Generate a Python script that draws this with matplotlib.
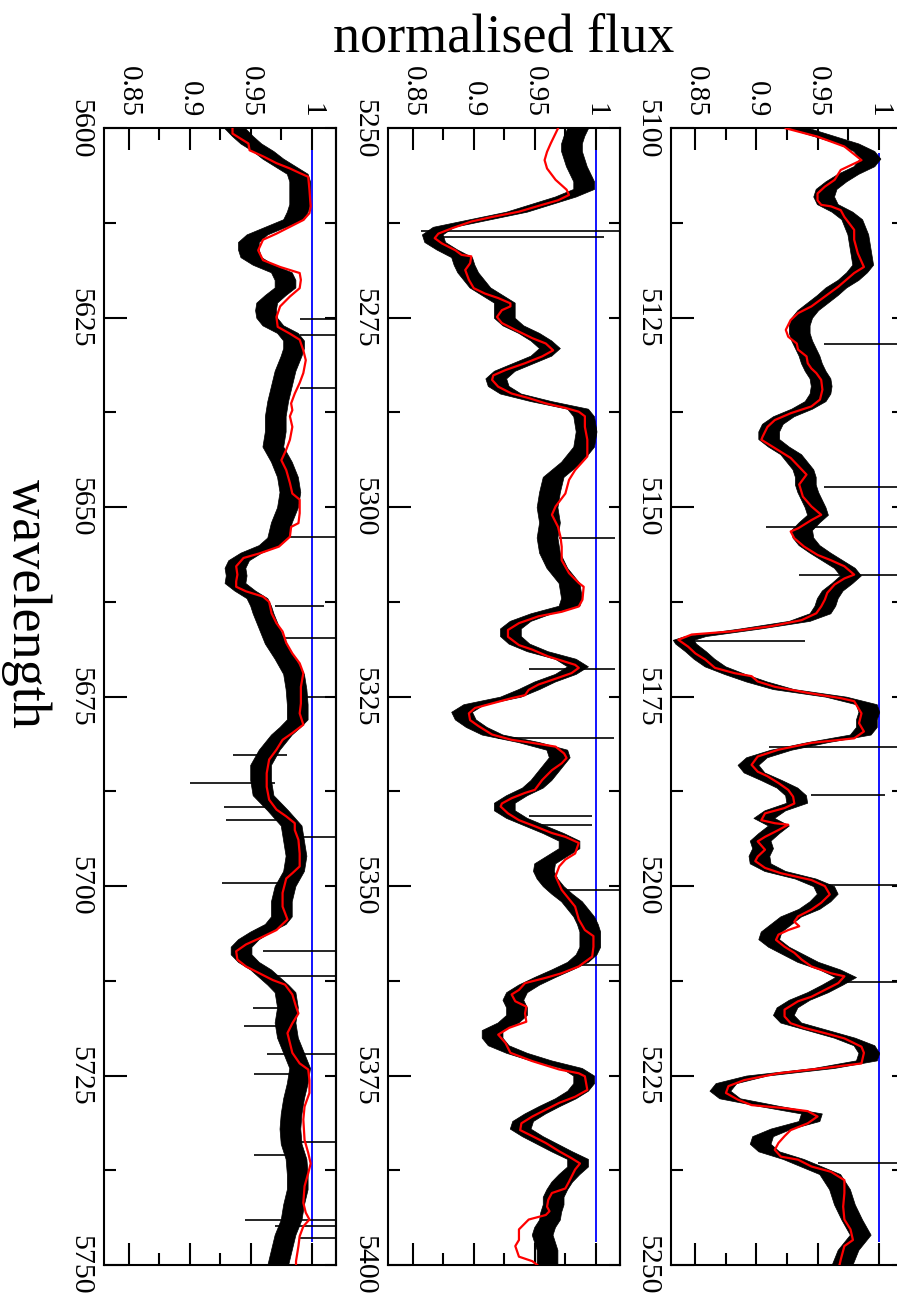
import matplotlib
matplotlib.use('Agg')
import matplotlib.pyplot as plt
from matplotlib.ticker import MultipleLocator, FuncFormatter

plt.rcParams['font.family'] = ['Liberation Serif', 'DejaVu Serif']

# ---- panel A: 5100-5250 ----
a_range = (5100, 5250)
a_red_lam = [5100.0, 5101.1, 5102.4, 5104.2, 5105.5, 5106.8, 5107.7, 5108.6, 5109.5, 5110.1,
             5110.3, 5110.8, 5111.7, 5113.4, 5114.7, 5116.5, 5118.3, 5119.1, 5120.9, 5122.2,
             5123.5, 5124.4, 5125.3, 5126.6, 5127.5, 5128.4, 5129.2, 5130.1, 5131.0, 5131.7,
             5132.3, 5133.2, 5134.5, 5135.8, 5136.7, 5137.6, 5138.5, 5139.4, 5140.7, 5141.1,
             5142.2, 5143.5, 5145.7, 5147.0, 5148.6, 5149.9, 5151.0, 5151.7, 5152.8, 5153.2,
             5154.1, 5155.2, 5156.3, 5157.0, 5157.8, 5158.9, 5159.4, 5160.2, 5161.3, 5162.2,
             5163.1, 5164.0, 5164.9, 5165.7, 5166.4, 5166.8, 5167.5, 5168.4, 5169.3, 5170.1,
             5171.2, 5171.9, 5172.3, 5173.0, 5173.7, 5174.5, 5175.2, 5175.6, 5177.2, 5178.5,
             5179.6, 5180.5, 5181.1, 5182.0, 5182.9, 5184.0, 5184.9, 5185.5, 5186.4, 5187.3,
             5188.2, 5189.1, 5189.7, 5190.4, 5191.3, 5191.7, 5191.9, 5192.6, 5193.5, 5194.1,
             5195.2, 5196.1, 5196.7, 5197.6, 5198.3, 5199.2, 5200.0, 5201.1, 5202.2, 5203.1,
             5204.0, 5204.7, 5205.3, 5205.8, 5206.4, 5207.1, 5208.0, 5208.8, 5209.7, 5210.6,
             5211.5, 5211.9, 5212.8, 5213.7, 5214.6, 5215.2, 5216.3, 5217.2, 5218.1, 5218.7,
             5219.4, 5220.1, 5221.2, 5222.0, 5223.4, 5224.0, 5224.7, 5225.6, 5226.4, 5227.3,
             5228.2, 5228.9, 5229.3, 5229.7, 5230.4, 5231.3, 5232.2, 5233.0, 5233.9, 5234.8,
             5235.7, 5236.1, 5237.0, 5237.7, 5238.8, 5240.5, 5242.3, 5244.0, 5245.3, 5246.7,
             5247.5, 5249.3, 5250.0]
a_red_flux = [0.924, 0.950, 0.972, 0.986, 0.969, 0.964, 0.956, 0.950, 0.950, 0.953,
              0.961, 0.969, 0.972, 0.980, 0.980, 0.983, 0.988, 0.980, 0.967, 0.956,
              0.945, 0.934, 0.928, 0.924, 0.926, 0.933, 0.934, 0.941, 0.942, 0.945,
              0.949, 0.953, 0.954, 0.952, 0.945, 0.928, 0.915, 0.909, 0.905, 0.904,
              0.915, 0.928, 0.941, 0.935, 0.938, 0.945, 0.953, 0.945, 0.934, 0.928,
              0.931, 0.939, 0.950, 0.961, 0.972, 0.980, 0.972, 0.964, 0.958, 0.956,
              0.953, 0.949, 0.937, 0.912, 0.879, 0.847, 0.836, 0.844, 0.850, 0.858,
              0.866, 0.882, 0.896, 0.901, 0.915, 0.942, 0.969, 0.980, 0.986, 0.984,
              0.988, 0.980, 0.945, 0.918, 0.901, 0.896, 0.901, 0.909, 0.918, 0.926,
              0.930, 0.931, 0.923, 0.907, 0.904, 0.915, 0.926, 0.918, 0.907, 0.901,
              0.907, 0.901, 0.899, 0.907, 0.920, 0.945, 0.956, 0.960, 0.953, 0.945,
              0.934, 0.931, 0.935, 0.926, 0.918, 0.916, 0.923, 0.931, 0.937, 0.945,
              0.961, 0.972, 0.967, 0.956, 0.945, 0.934, 0.923, 0.923, 0.928, 0.939,
              0.956, 0.972, 0.986, 0.988, 0.986, 0.956, 0.918, 0.890, 0.877, 0.875,
              0.885, 0.896, 0.923, 0.942, 0.950, 0.942, 0.928, 0.923, 0.918, 0.915,
              0.920, 0.934, 0.945, 0.961, 0.972, 0.972, 0.971, 0.972, 0.977, 0.979,
              0.972, 0.969, 0.968]
a_blk_lam = [5100, 5101, 5102, 5103, 5104, 5105, 5106, 5107, 5108, 5109, 5110, 5111, 5112,
             5114, 5116, 5118, 5119, 5120, 5121, 5122, 5123, 5124, 5125, 5126, 5127, 5128,
             5129, 5130, 5131, 5132, 5133, 5134, 5135, 5136, 5137, 5138, 5139, 5140, 5141,
             5142, 5143, 5144, 5145, 5146, 5147, 5148, 5149, 5150, 5151, 5152, 5153, 5154,
             5155, 5156, 5157, 5158, 5159, 5160, 5161, 5162, 5163, 5164, 5165, 5166, 5167,
             5167.5, 5168, 5169, 5170, 5171, 5172, 5173, 5174, 5175, 5176, 5177, 5178, 5179,
             5180, 5181, 5182, 5183, 5184, 5185, 5186, 5187, 5188, 5189, 5190, 5191, 5192,
             5193, 5194, 5195, 5196, 5197, 5198, 5199, 5200, 5201, 5202, 5203, 5204, 5205,
             5206, 5207, 5208, 5209, 5210, 5211, 5212, 5213, 5214, 5215, 5216, 5217, 5218,
             5219, 5220, 5221, 5222, 5223, 5224, 5225, 5226, 5227, 5228, 5229, 5230, 5231,
             5232, 5233, 5234, 5235, 5236, 5237, 5238, 5240, 5242, 5244, 5246, 5248, 5250]
a_blk_flux = [0.935, 0.955, 0.975, 0.988, 0.993, 0.988, 0.975, 0.965, 0.957, 0.955, 0.958,
              0.970, 0.978, 0.983, 0.985, 0.987, 0.982, 0.975, 0.965, 0.958, 0.950, 0.942,
              0.937, 0.935, 0.935, 0.937, 0.940, 0.943, 0.945, 0.948, 0.952, 0.953, 0.952,
              0.948, 0.937, 0.922, 0.913, 0.910, 0.910, 0.918, 0.928, 0.933, 0.938, 0.940,
              0.940, 0.942, 0.945, 0.948, 0.950, 0.943, 0.937, 0.938, 0.943, 0.952, 0.962,
              0.972, 0.977, 0.970, 0.962, 0.958, 0.956, 0.952, 0.935, 0.895, 0.850, 0.840,
              0.842, 0.850, 0.857, 0.866, 0.882, 0.900, 0.922, 0.965, 0.990, 0.992, 0.990,
              0.990, 0.985, 0.950, 0.920, 0.900, 0.893, 0.898, 0.912, 0.925, 0.932, 0.933,
              0.915, 0.906, 0.918, 0.910, 0.903, 0.905, 0.902, 0.903, 0.915, 0.940, 0.955,
              0.958, 0.952, 0.943, 0.928, 0.920, 0.912, 0.910, 0.918, 0.930, 0.942, 0.960,
              0.973, 0.962, 0.950, 0.935, 0.925, 0.922, 0.928, 0.950, 0.972, 0.988, 0.992,
              0.990, 0.955, 0.900, 0.875, 0.870, 0.878, 0.910, 0.945, 0.943, 0.920, 0.905,
              0.903, 0.910, 0.930, 0.945, 0.960, 0.968, 0.972, 0.978, 0.985, 0.975, 0.970]
a_spike_lam = [5128.4, 5147.3, 5152.6, 5158.9, 5167.7, 5181.6, 5188.0, 5199.8, 5212.6, 5236.5]
a_spike_lo = [0.955, 0.955, 0.908, 0.935, 0.836, 0.910, 0.945, 0.950, 0.967, 0.950]
a_spike_hi = [1.03, 1.03, 1.03, 1.03, 0.940, 1.03, 1.005, 1.03, 1.03, 1.03]
a_cont = (5103.3, 5246.9)

# ---- panel B: 5250-5400 ----
b_range = (5250, 5400)
b_red_lam = [5250.0, 5252.0, 5253.1, 5254.2, 5255.3, 5256.8, 5258.1, 5258.8, 5259.5, 5260.1,
             5261.0, 5261.7, 5262.3, 5263.2, 5263.9, 5264.5, 5265.2, 5266.1, 5266.7, 5266.9,
             5267.8, 5268.7, 5270.0, 5271.1, 5271.8, 5272.4, 5273.1, 5273.5, 5274.0, 5274.9,
             5275.7, 5276.6, 5277.7, 5278.4, 5279.3, 5280.1, 5281.0, 5281.9, 5282.6, 5283.2,
             5284.1, 5285.0, 5285.6, 5286.3, 5286.9, 5287.4, 5288.0, 5289.4, 5291.1, 5293.3,
             5295.1, 5296.4, 5298.2, 5299.9, 5301.0, 5302.6, 5303.9, 5305.2, 5307.0, 5308.7,
             5310.0, 5310.5, 5312.2, 5313.1, 5313.8, 5314.4, 5315.3, 5316.2, 5317.1, 5318.2,
             5318.8, 5319.7, 5320.4, 5320.8, 5321.2, 5321.9, 5322.8, 5323.4, 5324.1, 5324.8,
             5325.2, 5325.9, 5326.5, 5327.2, 5328.1, 5328.9, 5330.0, 5330.7, 5331.1, 5331.6,
             5332.5, 5333.1, 5333.8, 5334.7, 5336.0, 5337.3, 5337.7, 5338.4, 5339.1, 5339.5,
             5340.4, 5341.3, 5342.1, 5343.0, 5343.5, 5344.3, 5345.7, 5346.5, 5347.4, 5348.7,
             5350.5, 5352.7, 5354.4, 5355.8, 5356.6, 5358.0, 5359.3, 5360.6, 5361.5, 5362.1,
             5362.8, 5363.7, 5364.3, 5365.2, 5365.9, 5366.8, 5367.9, 5368.7, 5369.6, 5370.7,
             5372.0, 5373.1, 5374.2, 5374.7, 5375.1, 5376.9, 5377.8, 5378.6, 5379.5, 5380.4,
             5381.3, 5382.2, 5383.0, 5383.9, 5385.0, 5385.9, 5386.6, 5387.4, 5389.0, 5389.9,
             5390.5, 5391.4, 5392.3, 5392.9, 5393.4, 5394.0, 5395.3, 5396.7, 5397.5, 5398.9,
             5399.5, 5400.0]
b_red_flux = [0.969, 0.963, 0.960, 0.958, 0.960, 0.967, 0.976, 0.978, 0.969, 0.956,
              0.937, 0.915, 0.898, 0.882, 0.871, 0.868, 0.874, 0.885, 0.890, 0.898,
              0.897, 0.893, 0.896, 0.900, 0.909, 0.920, 0.930, 0.930, 0.923, 0.919,
              0.923, 0.934, 0.948, 0.959, 0.965, 0.956, 0.942, 0.926, 0.916, 0.915,
              0.920, 0.931, 0.945, 0.959, 0.975, 0.986, 0.991, 0.991, 0.993, 0.993,
              0.983, 0.978, 0.975, 0.967, 0.964, 0.969, 0.971, 0.972, 0.972, 0.978,
              0.986, 0.990, 0.989, 0.986, 0.972, 0.953, 0.937, 0.928, 0.928, 0.937,
              0.948, 0.961, 0.975, 0.983, 0.986, 0.980, 0.964, 0.953, 0.945, 0.942,
              0.931, 0.915, 0.901, 0.896, 0.897, 0.904, 0.915, 0.931, 0.948, 0.967,
              0.974, 0.976, 0.972, 0.964, 0.956, 0.950, 0.942, 0.931, 0.923, 0.922,
              0.928, 0.937, 0.950, 0.964, 0.975, 0.986, 0.983, 0.975, 0.970, 0.967,
              0.972, 0.983, 0.986, 0.991, 0.998, 0.998, 0.997, 0.986, 0.972, 0.959,
              0.942, 0.937, 0.931, 0.934, 0.943, 0.942, 0.943, 0.929, 0.920, 0.926,
              0.930, 0.948, 0.970, 0.986, 0.991, 0.993, 0.983, 0.970, 0.959, 0.948,
              0.939, 0.938, 0.948, 0.959, 0.970, 0.980, 0.987, 0.983, 0.978, 0.975,
              0.964, 0.961, 0.960, 0.962, 0.959, 0.945, 0.937, 0.937, 0.934, 0.937,
              0.948, 0.952]
b_blk_lam = [5250, 5251, 5252, 5253, 5254, 5255, 5256, 5257, 5258, 5259, 5260, 5261, 5262,
             5263, 5264, 5265, 5266, 5267, 5268, 5269, 5270, 5271, 5272, 5273, 5274, 5275,
             5276, 5277, 5278, 5279, 5280, 5281, 5282, 5283, 5284, 5285, 5286, 5287, 5288,
             5290, 5292, 5294, 5296, 5298, 5300, 5302, 5304, 5306, 5308, 5310, 5312, 5313,
             5314, 5315, 5316, 5317, 5318, 5319, 5320, 5321, 5322, 5323, 5324, 5325, 5326,
             5327, 5328, 5329, 5330, 5331, 5332, 5333, 5334, 5336, 5337, 5338, 5339, 5340,
             5341, 5342, 5343, 5344, 5345, 5346, 5347, 5348, 5349, 5350, 5351, 5352, 5353,
             5354, 5355, 5356, 5357, 5358, 5359, 5360, 5361, 5362, 5363, 5364, 5365, 5366,
             5367, 5368, 5369, 5370, 5371, 5372, 5373, 5374, 5375, 5376, 5377, 5378, 5379,
             5380, 5381, 5382, 5383, 5384, 5385, 5386, 5387, 5388, 5389, 5390, 5391, 5392,
             5393, 5394, 5395, 5396, 5397, 5398, 5399, 5400]
b_blk_flux = [0.985, 0.982, 0.980, 0.980, 0.982, 0.984, 0.987, 0.990, 0.990, 0.975, 0.955,
              0.935, 0.905, 0.875, 0.866, 0.868, 0.878, 0.890, 0.892, 0.895, 0.900, 0.905,
              0.915, 0.925, 0.925, 0.925, 0.932, 0.945, 0.955, 0.962, 0.955, 0.940, 0.925,
              0.918, 0.920, 0.930, 0.955, 0.985, 0.990, 0.992, 0.990, 0.980, 0.965, 0.962,
              0.960, 0.962, 0.960, 0.962, 0.968, 0.978, 0.980, 0.978, 0.955, 0.938, 0.930,
              0.930, 0.937, 0.952, 0.975, 0.985, 0.975, 0.958, 0.945, 0.930, 0.900, 0.890,
              0.893, 0.902, 0.915, 0.945, 0.968, 0.970, 0.965, 0.955, 0.948, 0.935, 0.925,
              0.925, 0.935, 0.950, 0.965, 0.978, 0.978, 0.968, 0.958, 0.957, 0.960, 0.965,
              0.972, 0.980, 0.985, 0.990, 0.993, 0.995, 0.995, 0.995, 0.992, 0.985, 0.972,
              0.958, 0.945, 0.935, 0.932, 0.935, 0.935, 0.928, 0.915, 0.915, 0.920, 0.935,
              0.955, 0.980, 0.990, 0.990, 0.985, 0.975, 0.962, 0.950, 0.940, 0.938, 0.948,
              0.960, 0.972, 0.985, 0.985, 0.978, 0.972, 0.968, 0.965, 0.965, 0.963, 0.962,
              0.958, 0.956, 0.958, 0.960, 0.960, 0.960]
b_spike_lam = [5263.6, 5264.3, 5304.0, 5321.4, 5330.5, 5340.8, 5341.9, 5350.5, 5360.4]
b_spike_lo = [0.857, 0.866, 0.970, 0.945, 0.920, 0.945, 0.945, 0.965, 0.985]
b_spike_hi = [1.03, 1.007, 1.016, 1.016, 1.015, 0.997, 0.997, 1.03, 1.03]
b_cont = (5252.9, 5396.9)

# ---- panel C: 5600-5750 ----
c_range = (5600, 5750)
c_red_lam = [5600.0, 5600.7, 5601.3, 5602.0, 5602.9, 5603.7, 5604.6, 5605.3, 5605.9, 5606.4,
             5608.1, 5610.3, 5611.2, 5612.1, 5613.0, 5613.9, 5614.7, 5616.1, 5617.4, 5618.3,
             5619.1, 5620.0, 5621.1, 5622.2, 5623.5, 5624.9, 5626.2, 5627.1, 5627.9, 5629.3,
             5630.6, 5632.3, 5633.6, 5635.0, 5636.3, 5637.2, 5638.0, 5639.4, 5641.1, 5642.4,
             5643.8, 5645.1, 5646.8, 5648.2, 5649.0, 5650.8, 5652.1, 5652.6, 5653.9, 5655.2,
             5656.1, 5656.7, 5657.8, 5658.9, 5659.8, 5660.5, 5661.1, 5661.8, 5662.5, 5664.0,
             5665.3, 5666.4, 5667.9, 5669.3, 5670.6, 5671.9, 5673.7, 5675.9, 5677.2, 5678.7,
             5679.8, 5680.7, 5682.0, 5683.3, 5685.1, 5686.9, 5688.6, 5689.9, 5690.8, 5691.7,
             5692.6, 5693.9, 5695.7, 5697.4, 5698.3, 5699.0, 5700.9, 5702.7, 5704.4, 5705.8,
             5706.9, 5707.7, 5708.6, 5709.7, 5710.6, 5711.5, 5712.4, 5713.0, 5714.3, 5715.9,
             5716.8, 5718.1, 5719.4, 5720.7, 5722.0, 5723.4, 5724.2, 5725.6, 5727.3, 5729.1,
             5730.8, 5733.5, 5735.2, 5736.6, 5737.9, 5739.6, 5741.8, 5743.1, 5744.0, 5744.9,
             5746.2, 5747.5, 5749.5, 5750.0]
c_red_flux = [0.935, 0.935, 0.941, 0.948, 0.949, 0.960, 0.971, 0.982, 0.990, 0.997,
              0.998, 0.999, 0.998, 0.993, 0.982, 0.971, 0.960, 0.956, 0.960, 0.974,
              0.990, 0.991, 0.990, 0.982, 0.974, 0.971, 0.972, 0.982, 0.990, 0.993,
              0.995, 0.993, 0.990, 0.986, 0.983, 0.984, 0.982, 0.984, 0.982, 0.979,
              0.975, 0.979, 0.982, 0.984, 0.990, 0.990, 0.989, 0.983, 0.982, 0.973,
              0.957, 0.944, 0.938, 0.939, 0.938, 0.938, 0.946, 0.960, 0.965, 0.967,
              0.971, 0.976, 0.979, 0.984, 0.990, 0.993, 0.991, 0.991, 0.990, 0.993,
              0.984, 0.976, 0.971, 0.965, 0.963, 0.963, 0.965, 0.971, 0.979, 0.986,
              0.986, 0.989, 0.990, 0.990, 0.984, 0.979, 0.976, 0.976, 0.980, 0.971,
              0.957, 0.946, 0.938, 0.939, 0.946, 0.957, 0.968, 0.978, 0.984, 0.987,
              0.989, 0.984, 0.980, 0.982, 0.984, 0.990, 0.997, 0.998, 0.998, 0.994,
              0.993, 0.994, 0.997, 0.999, 0.997, 0.994, 0.993, 0.995, 0.998, 0.993,
              0.990, 0.989, 0.987, 0.987]
c_blk_lam = [5600, 5601, 5602, 5603, 5604, 5605, 5606, 5607, 5608, 5609, 5610, 5611, 5612,
             5613, 5614, 5615, 5616, 5617, 5618, 5619, 5620, 5621, 5622, 5623, 5624, 5625,
             5626, 5627, 5628, 5629, 5630, 5632, 5634, 5636, 5638, 5640, 5642, 5644, 5646,
             5648, 5650, 5652, 5654, 5655, 5656, 5657, 5658, 5659, 5660, 5661, 5662, 5663,
             5664, 5666, 5668, 5670, 5672, 5674, 5676, 5678, 5679, 5680, 5682, 5684, 5686,
             5688, 5690, 5692, 5694, 5696, 5698, 5700, 5702, 5704, 5705, 5706, 5707, 5708,
             5709, 5710, 5711, 5712, 5713, 5714, 5716, 5718, 5720, 5722, 5724, 5726, 5728,
             5730, 5732, 5734, 5736, 5738, 5740, 5742, 5744, 5746, 5748, 5750]
c_blk_flux = [0.937, 0.943, 0.950, 0.960, 0.968, 0.978, 0.988, 0.990, 0.990, 0.990, 0.990,
              0.988, 0.985, 0.970, 0.955, 0.948, 0.948, 0.950, 0.960, 0.975, 0.978, 0.978,
              0.970, 0.963, 0.962, 0.963, 0.968, 0.980, 0.985, 0.985, 0.983, 0.978, 0.975,
              0.972, 0.970, 0.970, 0.968, 0.975, 0.980, 0.982, 0.980, 0.975, 0.972, 0.965,
              0.950, 0.940, 0.937, 0.938, 0.937, 0.945, 0.955, 0.958, 0.960, 0.965, 0.970,
              0.978, 0.985, 0.987, 0.988, 0.988, 0.982, 0.975, 0.965, 0.958, 0.958, 0.960,
              0.972, 0.983, 0.985, 0.987, 0.985, 0.978, 0.975, 0.975, 0.970, 0.958, 0.948,
              0.942, 0.942, 0.948, 0.958, 0.965, 0.972, 0.978, 0.980, 0.978, 0.980, 0.985,
              0.990, 0.988, 0.985, 0.983, 0.982, 0.983, 0.987, 0.988, 0.988, 0.985, 0.983,
              0.978, 0.975, 0.972]
c_spike_lam = [5625.1, 5627.3, 5634.3, 5653.9, 5663.0, 5667.3, 5675.0, 5682.7, 5686.4, 5689.5,
               5691.3, 5693.5, 5699.6, 5708.6, 5711.9, 5716.1, 5718.4, 5722.1, 5724.8, 5733.8,
               5735.5, 5744.0, 5744.9, 5746.5]
c_spike_lo = [0.990, 0.990, 0.990, 0.980, 0.970, 0.970, 0.980, 0.935, 0.900, 0.928,
              0.930, 0.990, 0.926, 0.960, 0.960, 0.952, 0.944, 0.963, 0.953, 0.985,
              0.953, 0.945, 0.970, 0.990]
c_spike_hi = [1.03, 1.03, 1.03, 1.03, 1.010, 1.03, 1.03, 0.980, 0.970, 0.975,
              0.975, 1.03, 0.975, 1.03, 1.03, 0.985, 0.985, 1.03, 0.990, 1.03,
              0.990, 1.03, 1.03, 1.03]
c_cont = (5602.9, 5746.9)

continuum_level = 1.0
flux_lim = (0.83, 1.02)
noise = 0.0085   # half width of the noisy observed spectrum band

panels = [
    (c_range, c_red_lam, c_red_flux, c_blk_lam, c_blk_flux, c_spike_lam, c_spike_lo, c_spike_hi, c_cont),
    (b_range, b_red_lam, b_red_flux, b_blk_lam, b_blk_flux, b_spike_lam, b_spike_lo, b_spike_hi, b_cont),
    (a_range, a_red_lam, a_red_flux, a_blk_lam, a_blk_flux, a_spike_lam, a_spike_lo, a_spike_hi, a_cont),
]

W, H = 897, 1301
fig = plt.figure(figsize=(W / 100, H / 100), dpi=100)
lefts = [104.3, 388.3, 671.0]
fmt = FuncFormatter(lambda v, p: f"{v:g}")

for left, (rng, rl, rf, bl, bf, sl, slo, shi, cont) in zip(lefts, panels):
    ax = fig.add_axes([left / W, 1 - 1265 / H, 232 / W, 1136.7 / H])
    ax.vlines(continuum_level, cont[0], cont[1], color='#0000ff', lw=1.3, zorder=1)
    ax.fill_betweenx(bl, [f - noise for f in bf], [f + noise for f in bf],
                     color='black', lw=0.5, zorder=2)
    ax.hlines(sl, slo, shi, color='black', lw=1.2, zorder=2)
    ax.plot(rf, rl, color='#ff0000', lw=1.6, zorder=3)

    ax.set_xlim(*flux_lim)
    ax.set_ylim(rng[1], rng[0])
    ax.xaxis.set_major_locator(MultipleLocator(0.05))
    ax.xaxis.set_minor_locator(MultipleLocator(0.025))
    ax.xaxis.set_major_formatter(fmt)
    ax.yaxis.set_major_locator(MultipleLocator(25))
    ax.yaxis.set_minor_locator(MultipleLocator(12.5))

    ax.tick_params(axis='x', which='both', direction='in', top=True, bottom=True,
                   labeltop=True, labelbottom=False, width=1.5)
    ax.tick_params(axis='x', which='major', length=16, labelsize=21, pad=8, labelrotation=-90)
    ax.tick_params(axis='x', which='minor', length=8.3)
    ax.tick_params(axis='y', which='both', direction='in', left=True, right=False, width=1.5)
    ax.tick_params(axis='y', which='major', length=16.5, labelsize=21.5, pad=8, labelrotation=-90)
    ax.tick_params(axis='y', which='minor', length=8.8)
    for lab in ax.get_yticklabels():
        lab.set_va('center')
    for s in ax.spines.values():
        s.set_linewidth(1.5)

    sec = ax.secondary_yaxis('right')
    sec.yaxis.set_major_locator(MultipleLocator(12.5))
    sec.tick_params(direction='in', length=8, width=1.5, labelright=False)
    sec.spines['right'].set_linewidth(1.5)

fig.text(504 / W, 1 - 52 / H, 'normalised flux', fontsize=39, ha='center', va='baseline')
fig.text(26 / W, 696.6 / H, 'wavelength', fontsize=39, rotation=-90, ha='center', va='center')

fig.savefig('out.png', dpi=100)
